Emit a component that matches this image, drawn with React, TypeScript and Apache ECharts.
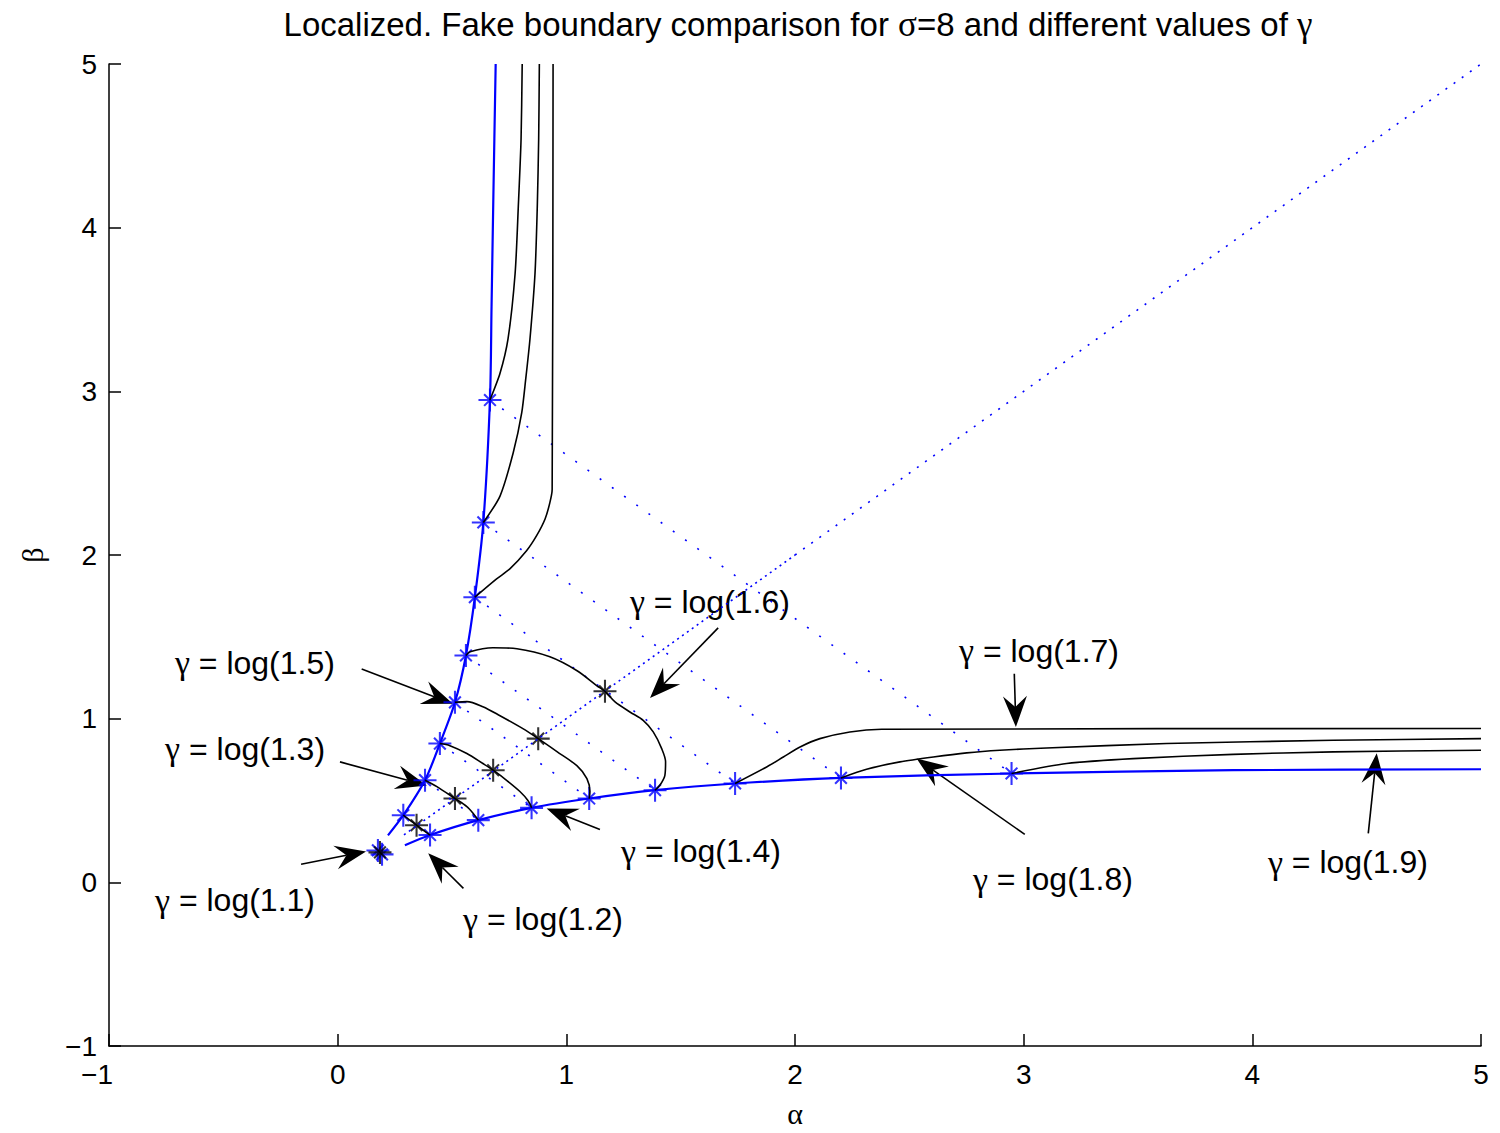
import React, { useEffect, useRef } from "react";
import * as echarts from "echarts";

const FONT = "'Liberation Sans', Arial, Helvetica, sans-serif";
const GREEK_FONT = "'Liberation Serif', 'Times New Roman', serif";
const TITLE_PARTS = ["Localized. Fake boundary comparison for ", "σ", "=8 and different values of ", "γ"];

// Axis ranges
const X_RANGE = [-1, 5];
const Y_RANGE = [-1, 5];

// Blue limit boundary, upper (vertical) and lower (horizontal) branches: [alpha, beta]
const blueUpper = [
  [0.22, 0.287], [0.287, 0.41], [0.382, 0.624], [0.447, 0.848], [0.513, 1.1],
  [0.561, 1.386], [0.6, 1.742], [0.637, 2.199], [0.666, 2.947], [0.673, 3.52],
  [0.681, 4.2], [0.691, 5],
];
const blueLower = [
  [0.294, 0.226], [0.404, 0.289], [0.615, 0.38], [0.848, 0.455], [1.1, 0.512],
  [1.388, 0.563], [1.738, 0.604], [2.201, 0.638], [2.947, 0.665], [3.916, 0.685],
  [5, 0.691],
];

// Boundary points for gamma = log(1.1) ... log(1.9)
const upperMarkers = [
  [0.176, 0.195], [0.287, 0.41], [0.382, 0.624], [0.447, 0.848], [0.513, 1.1],
  [0.561, 1.386], [0.6, 1.742], [0.637, 2.199], [0.666, 2.947],
];
const lowerMarkers = [
  [0.194, 0.171], [0.404, 0.289], [0.615, 0.38], [0.848, 0.455], [1.1, 0.512],
  [1.388, 0.563], [1.738, 0.604], [2.201, 0.638], [2.947, 0.665],
];

// Fake boundary crossings on the diagonal
const diagonalStars = [
  [0.185, 0.183], [0.345, 0.349], [0.513, 0.512], [0.68, 0.685], [0.877, 0.878], [1.169, 1.167],
];

// Diagonal alpha = beta
const diagonalNear = [[0.29, 0.29], [2, 2]];
const diagonalFar = [[2, 2], [5, 5]];

// Closed fake boundaries, gamma = log(1.1) ... log(1.6)
const arc11 = [[0.176, 0.195], [0.185, 0.183], [0.194, 0.171]];
const arc12 = [[0.287, 0.41], [0.345, 0.349], [0.404, 0.289]];
const arc13 = [[0.382, 0.624], [0.434, 0.585], [0.513, 0.512], [0.565, 0.463], [0.593, 0.421], [0.615, 0.38]];
const arc14 = [
  [0.447, 0.848], [0.491, 0.835], [0.565, 0.787], [0.635, 0.726], [0.68, 0.685],
  [0.74, 0.622], [0.797, 0.555], [0.832, 0.5], [0.848, 0.455],
];
const arc15 = [
  [0.513, 1.1], [0.565, 1.104], [0.635, 1.073], [0.71, 1.018], [0.81, 0.939], [0.877, 0.878],
  [0.959, 0.799], [1.046, 0.713], [1.09, 0.634], [1.103, 0.555], [1.1, 0.512],
];
const arc16 = [
  [0.561, 1.386], [0.579, 1.409], [0.679, 1.433], [0.784, 1.427], [0.928, 1.378], [1.047, 1.293],
  [1.134, 1.201], [1.169, 1.167], [1.213, 1.102], [1.278, 1.041], [1.336, 0.99], [1.38, 0.919],
  [1.417, 0.817], [1.434, 0.736], [1.431, 0.654], [1.409, 0.593], [1.388, 0.563],
];

// Open fake boundaries, gamma = log(1.7) ... log(1.9)
const tail17Up = [
  [0.6, 1.742], [0.695, 1.854], [0.753, 1.915], [0.826, 2.026], [0.87, 2.118], [0.907, 2.22],
  [0.928, 2.32], [0.938, 2.4], [0.942, 5],
];
const tail18Up = [
  [0.637, 2.199], [0.71, 2.36], [0.768, 2.626], [0.805, 2.87], [0.822, 3.07], [0.841, 3.32],
  [0.863, 3.72], [0.873, 4.13], [0.879, 4.54], [0.882, 5],
];
const tail19Up = [
  [0.666, 2.947], [0.71, 3.11], [0.745, 3.32], [0.776, 3.72], [0.79, 4.13], [0.802, 4.54], [0.807, 5],
];
const tail17Low = [
  [1.738, 0.604], [1.876, 0.705], [1.949, 0.766], [2.022, 0.827], [2.109, 0.878], [2.24, 0.919],
  [2.379, 0.935], [5, 0.94],
];
const tail18Low = [
  [2.201, 0.638], [2.313, 0.691], [2.459, 0.736], [2.605, 0.766], [2.751, 0.791], [2.896, 0.807],
  [3.1, 0.821], [3.625, 0.848], [4.354, 0.868], [5, 0.878],
];
const tail19Low = [
  [2.947, 0.665], [3.188, 0.726], [3.479, 0.756], [3.916, 0.782], [4.354, 0.797], [5, 0.807],
];

// Annotations: gamma = log(k)
const labelArgs = ["1.1", "1.2", "1.3", "1.4", "1.5", "1.6", "1.7", "1.8", "1.9"];
const labelPositions = [
  [-0.449, -0.11], [0.898, -0.226], [-0.405, 0.817], [1.589, 0.189], [-0.362, 1.341],
  [1.628, 1.713], [3.067, 1.415], [3.128, 0.018], [4.418, 0.122],
];
// [tail alpha, tail beta, tip alpha, tip beta]
const arrows = [
  [-0.16, 0.11, 0.124, 0.189],
  [0.55, -0.037, 0.396, 0.177],
  [0.01, 0.736, 0.39, 0.591],
  [1.147, 0.323, 0.914, 0.451],
  [0.105, 1.303, 0.504, 1.091],
  [1.664, 1.555, 1.366, 1.126],
  [2.959, 1.274, 2.966, 0.949],
  [3.005, 0.293, 2.532, 0.756],
  [4.507, 0.299, 4.544, 0.789],
];

// Asterisk marker: vertical, horizontal and two diagonal bars, all wound the same way
const STAR =
  "path://M-0.09,-1L0.09,-1L0.09,1L-0.09,1Z" +
  "M-1,-0.09L1,-0.09L1,0.09L-1,0.09Z" +
  "M0.4455,0.5727L-0.5727,-0.4455L-0.4455,-0.5727L0.5727,0.4455Z" +
  "M0.5727,-0.4455L-0.4455,0.5727L-0.5727,0.4455L0.4455,-0.5727Z";

const BLUE = "#0000ff";
const BLACK = "#000000";

function curve(data: number[][], color: string, width: number, smooth: number | boolean = 0.3) {
  return {
    type: "line",
    data,
    showSymbol: false,
    symbol: "none",
    smooth,
    silent: true,
    lineStyle: { color, width },
  };
}

function dotted(data: number[][], dash: number[]) {
  return {
    type: "line",
    data,
    showSymbol: false,
    symbol: "none",
    silent: true,
    lineStyle: { color: BLUE, width: 1.6, type: dash, cap: "butt" },
  };
}

function stars(data: number[][], color: string) {
  return {
    type: "scatter",
    data,
    symbol: STAR,
    symbolSize: 23,
    silent: true,
    itemStyle: { color, borderWidth: 0 },
  };
}

export default function App() {
  const ref = useRef<HTMLDivElement>(null);

  useEffect(() => {
    if (!ref.current) return;
    const chart = echarts.init(ref.current, undefined, { renderer: "svg" });

    const axisText = { color: BLACK, fontSize: 28, fontFamily: FONT };
    const greekAxisText = { color: BLACK, fontSize: 30, fontFamily: GREEK_FONT };

    const series: any[] = [];
    series.push(dotted(diagonalNear, [2, 4]));
    series.push(dotted(diagonalFar, [2, 8]));
    for (let i = 1; i < upperMarkers.length; i++) {
      series.push(dotted([upperMarkers[i], lowerMarkers[i]], [2, 13]));
    }
    series.push(curve(blueUpper, BLUE, 2.2));
    series.push(curve(blueLower, BLUE, 2.2));
    [arc11, arc12, arc13, arc14, arc15, arc16].forEach((a) => series.push(curve(a, BLACK, 1.6)));
    [tail17Up, tail18Up, tail19Up, tail17Low, tail18Low, tail19Low].forEach((a) =>
      series.push(curve(a, BLACK, 1.6, 0.25))
    );
    series.push(stars(upperMarkers, BLUE));
    series.push(stars(lowerMarkers, BLUE));
    series.push(stars(diagonalStars, BLACK));

    series.push({
      type: "custom",
      data: arrows,
      encode: { x: [0, 2], y: [1, 3] },
      silent: true,
      clip: false,
      renderItem: (_params: any, api: any) => {
        const a = api.coord([api.value(0), api.value(1)]);
        const b = api.coord([api.value(2), api.value(3)]);
        const dx = b[0] - a[0];
        const dy = b[1] - a[1];
        const len = Math.hypot(dx, dy) || 1;
        const ux = dx / len;
        const uy = dy / len;
        const nx = -uy;
        const ny = ux;
        const L = 31;
        const W = 12;
        const N = 20;
        const bx = b[0] - ux * L;
        const by = b[1] - uy * L;
        const notch = [b[0] - ux * N, b[1] - uy * N];
        return {
          type: "group",
          children: [
            {
              type: "line",
              shape: { x1: a[0], y1: a[1], x2: notch[0], y2: notch[1] },
              style: { stroke: BLACK, lineWidth: 1.6 },
            },
            {
              type: "polygon",
              shape: {
                points: [
                  [b[0], b[1]],
                  [bx + nx * W, by + ny * W],
                  notch,
                  [bx - nx * W, by - ny * W],
                ],
              },
              style: { fill: BLACK },
            },
          ],
        };
      },
    });

    series.push({
      type: "custom",
      data: labelPositions,
      encode: { x: 0, y: 1 },
      silent: true,
      clip: false,
      renderItem: (params: any, api: any) => {
        const p = api.coord([api.value(0), api.value(1)]);
        return {
          type: "text",
          x: p[0],
          y: p[1],
          style: {
            text: "{g|γ} = log(" + labelArgs[params.dataIndex] + ")",
            fill: BLACK,
            fontSize: 32,
            fontFamily: FONT,
            align: "center",
            verticalAlign: "middle",
            textAlign: "center",
            textVerticalAlign: "middle",
            rich: {
              g: { fontFamily: GREEK_FONT, fontSize: 34, fill: BLACK, color: BLACK },
            },
          },
        };
      },
    });

    const minusFmt = (v: number) => (v < 0 ? "\u2212" + Math.abs(v) : String(v));

    chart.setOption({
      animation: false,
      backgroundColor: "#ffffff",
      grid: { left: 109, right: 19, top: 64, bottom: 85, containLabel: false },
      graphic: [
        {
          type: "text",
          x: 798,
          y: 24,
          style: {
            text:
              TITLE_PARTS[0] + "{g|" + TITLE_PARTS[1] + "}" + TITLE_PARTS[2] + "{g|" + TITLE_PARTS[3] + "}",
            fill: BLACK,
            fontSize: 33,
            fontFamily: FONT,
            align: "center",
            verticalAlign: "middle",
            textAlign: "center",
            textVerticalAlign: "middle",
            rich: {
              g: { fontFamily: GREEK_FONT, fontSize: 35, fill: BLACK, color: BLACK },
            },
          },
        },
      ],
      xAxis: {
        type: "value",
        min: X_RANGE[0],
        max: X_RANGE[1],
        interval: 1,
        name: "α",
        nameLocation: "middle",
        nameGap: 52,
        nameTextStyle: greekAxisText,
        axisLine: { onZero: false, lineStyle: { color: BLACK, width: 1.5 } },
        axisTick: { inside: true, length: 12, lineStyle: { color: BLACK, width: 1.5 } },
        axisLabel: {
          ...axisText,
          margin: 14,
          formatter: (v: number) => (v < 0 ? "{neg|" + minusFmt(v) + "}" : String(v)),
          rich: { neg: { ...axisText, padding: [0, 24, 0, 0] } },
        },
        splitLine: { show: false },
      },
      yAxis: {
        type: "value",
        min: Y_RANGE[0],
        max: Y_RANGE[1],
        interval: 1,
        name: "β",
        nameLocation: "middle",
        nameGap: 62,
        nameTextStyle: greekAxisText,
        axisLine: { onZero: false, lineStyle: { color: BLACK, width: 1.5 } },
        axisTick: { inside: true, length: 12, lineStyle: { color: BLACK, width: 1.5 } },
        axisLabel: { ...axisText, margin: 12, formatter: minusFmt },
        splitLine: { show: false },
      },
      series,
    });

    return () => chart.dispose();
  }, []);

  return (
    <div
      ref={ref}
      style={{ position: "fixed", left: 0, top: 0, width: 1500, height: 1133, background: "#fff" }}
    />
  );
}
